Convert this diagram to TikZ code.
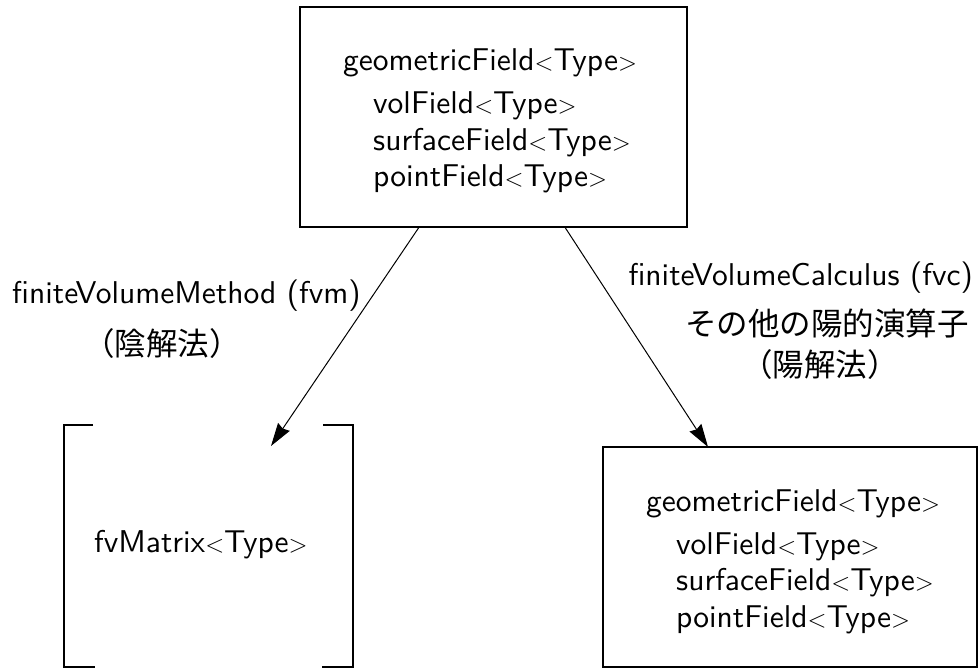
\documentclass[tikz,border=0pt]{standalone}
\usepackage{fontspec}
\newfontfamily\jp{Noto Sans CJK JP}
\newfontfamily\lmss{lmsans10-regular}[Extension=.otf]
\usetikzlibrary{arrows.meta}
\tikzset{
  boxnode/.style={draw, line width=1.2pt, rectangle, inner sep=0pt},
  txt/.style={anchor=base west, inner sep=0pt, font=\lmss\fontsize{31.5}{36}\selectfont},
  jptxt/.style={anchor=center, inner sep=0pt, font=\jp\fontsize{31.5}{36}\selectfont},
  conn/.style={line width=1pt, -{Stealth[length=23pt,width=14pt,inset=2pt]}},
  bracketline/.style={line width=1.2pt}
}
\begin{document}
\begin{tikzpicture}[x=1pt,y=-1pt]
\useasboundingbox (0,0) rectangle (979,668);
% top box
\node[boxnode, minimum width=387pt, minimum height=220pt] (top) at (493.5,117) {};
\node[txt] (t1) at (343,71) {geometricField$<$Type$>$};
\node[txt] (t2) at (373,114) {volField$<$Type$>$};
\node[txt] (t3) at (373,150.5) {surfaceField$<$Type$>$};
\node[txt] (t4) at (373,187) {pointField$<$Type$>$};
% right box
\node[boxnode, minimum width=374pt, minimum height=220pt] (rbox) at (790,557) {};
\node[txt] (r1) at (646,511) {geometricField$<$Type$>$};
\node[txt] (r2) at (676,554) {volField$<$Type$>$};
\node[txt] (r3) at (676,590.5) {surfaceField$<$Type$>$};
\node[txt] (r4) at (676,627) {pointField$<$Type$>$};
% fvMatrix bracket
\draw[bracketline] (93,425) -- (64,425) -- (64,667) -- (95,667);
\draw[bracketline] (323,425) -- (353,425) -- (353,667) -- (322,667);
\node[txt] (fvm) at (94,552) {fvMatrix$<$Type$>$};
% labels
\node[txt] (lm) at (12,303) {finiteVolumeMethod (fvm)};
\node[jptxt] (lj) at (162,344) {（陰解法）};
\node[txt, anchor=base east] (rc) at (973,285) {finiteVolumeCalculus (fvc)};
\node[jptxt] (rj1) at (827,323) {その他の陽的演算子};
\node[jptxt] (rj2) at (820,365) {（陽解法）};
% connectors
\coordinate (lend) at (271,446);
\coordinate (rend) at (708,447);
\draw[conn] (top) -- (lend);
\draw[conn] (top) -- (rend);
\end{tikzpicture}
\end{document}
